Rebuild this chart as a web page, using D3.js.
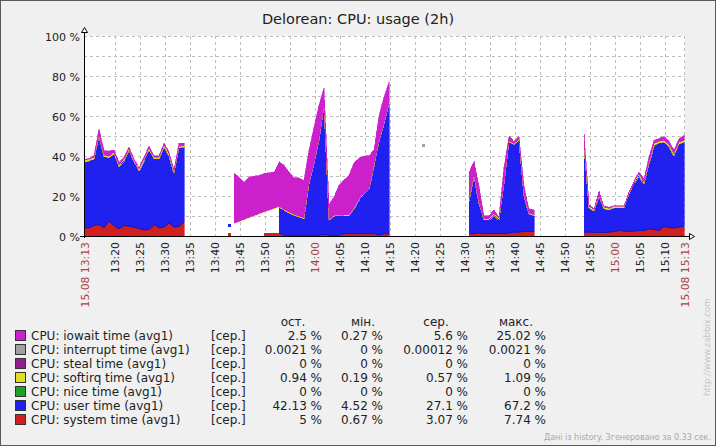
<!DOCTYPE html>
<html><head><meta charset="utf-8">
<script src="https://cdn.jsdelivr.net/npm/d3@7/dist/d3.min.js"></script>
<style>
body{margin:0;background:#f0f0f0}
svg{display:block}
text{font-family:"DejaVu Sans",sans-serif}
</style>
</head><body>
<svg id="chart" width="716" height="446"></svg>
<script>
// ---------------- data ----------------
const chartTitle = "Delorean: CPU: usage (2h)";
const sampleStart = "13:13:40";      // first sample clock time
const stepMinutes = 1;               // one sample per minute (avg1)
const spanMinutes = 120;

// values in %, one per minute, null = no data
const systemTime = [
  4.3,4.3,5.5,6,4.3,7.7,5.5,3.8,5.5,5.2,4.7,4,3.3,3.5,6,4.3,4.7,6.7,4.7,5,7.2,
  null,null,null,null,null,null,null,null,
  1.0,
  null,null,null,null,null,null,
  1.7,1.7,1.7,1.7,0.7,0.7,0.7,0.7,0.7,0.7,0.7,0.7,1.0,0.7,0.7,0.7,1.4,1.4,1.4,1.4,1.4,1.4,1.4,0.7,1.4,1.4,
  null,null,null,null,null,null,null,null,null,null,null,null,null,null,null,
  1.3,1.5,1.8,1.5,1.5,1.5,1.5,1.5,1.7,2.2,2.2,2.5,2.5,2.5,
  null,null,null,null,null,null,null,null,null,
  2.2,2.2,2.2,2.0,2.0,2.2,2.5,3.0,2.7,2.5,2.7,3.0,3.0,3.8,3.5,3.0,5.0,4.5,4.2,4.8,5.0
];
const userTime = [
  32.9,33.4,33.3,43.7,35.7,31.6,35.8,31.2,32.5,37.5,32.5,29,34.7,39.8,32.8,34.5,40.3,33.8,27,39.3,37.5,
  null,null,null,null,null,null,null,null,
  4.52,
  null,null,null,null,null,null,null,null,null,
  13.0,12.4,11.1,9.9,9.1,8.2,25.7,35.7,47.4,64.5,7.4,9.4,9.9,9.1,9.1,12.4,17.1,19.9,22.4,34.1,46.5,54.9,65.0,
  null,null,null,null,null,null,null,null,null,null,null,null,null,null,null,
  16.7,29,14.5,6.8,6.8,9.5,6.8,24.8,45.5,43.8,45.8,18,8.8,8,
  null,null,null,null,null,null,null,null,null,
  43.3,12.1,10.5,17.7,11.8,11.1,11.8,11.3,11.6,18.8,24,27.5,23.3,32.5,42,43.7,42.2,40.5,36.3,41.5,42.13
];
const softirqTime = [
  1.09,1.0,0.8,0.9,0.8,0.8,0.8,0.8,0.8,0.8,0.8,0.8,0.8,0.8,0.8,0.8,0.8,0.8,0.8,0.8,0.8,
  null,null,null,null,null,null,null,null,null,
  0.19,0.2,0.2,0.25,0.2,0.3,0.3,0.3,0.3,
  0.4,0.4,0.4,0.4,0.4,0.4,0.4,0.4,0.4,0.4,0.4,0.4,0.4,0.4,0.4,0.4,0.4,0.4,0.4,0.4,0.4,0.4,0.4,
  null,null,null,null,null,null,null,null,null,null,null,null,null,null,null,
  0.5,0.5,0.5,0.5,0.5,0.5,0.5,0.5,0.5,0.5,0.5,0.5,0.5,0.5,
  null,null,null,null,null,null,null,null,null,
  0.8,0.8,0.8,0.8,0.8,0.8,0.8,0.8,0.8,0.8,0.8,0.8,0.8,0.8,0.9,0.9,0.9,0.9,0.9,0.9,0.94
];
const interruptTime = [
  null,null,null,null,null,null,null,null,null,null,null,null,null,null,null,null,null,null,null,null,null,
  null,null,null,null,null,null,null,null,null,null,null,null,null,null,null,null,null,null,null,null,null,
  null,null,null,null,null,null,null,null,null,null,null,null,null,null,null,null,null,null,null,null,null,
  null,null,null,null,null,0.0021,
  null,null,null,null,null,null,null,null,null,null,null,null,null,null,null,null,null,null,null,null,null,
  null,null,null,null,null,null,null,null,null,null,null,null,null,null,null,null,null,null,null,null,null,
  null,null,null,null,null,null,null,null,null,null,null,null,null,null,null,null,null,null,null,null,null,null,null
];
const iowaitTime = [
  0.3,0.3,0.9,3.2,2.2,2.6,1.2,1.4,0.9,1.2,0.8,0.5,0.9,1.1,0.9,0.9,0.9,0.9,0.8,1.6,1.2,
  null,null,null,null,null,null,null,null,null,
  25.02,22.1,18.5,20.2,19.7,19.0,19.0,18.6,18.0,
  22.4,22.1,20.1,18.3,19.1,18.8,16.3,18.0,17.1,8.4,7.6,9.3,14.6,17.4,19.6,22.6,20.3,18.5,16.3,7.6,12.9,13.0,10.4,
  null,null,null,null,null,null,null,null,null,null,null,null,null,null,null,
  13.7,7,8.7,1.7,1.7,2,0.9,7.9,2.8,1.2,1.5,4.5,2,2.3,
  null,null,null,null,null,null,null,null,null,
  5.0,0.8,0.5,2.5,0.6,0.5,0.4,0.4,0.4,0.9,0.5,0.9,1.7,2.6,1.7,1.3,2.0,1.9,1.7,1.7,2.5
];

const timeTicks = ["13:20","13:25","13:30","13:35","13:40","13:45","13:50","13:55","14:00","14:05",
  "14:10","14:15","14:20","14:25","14:30","14:35","14:40","14:45","14:50","14:55","15:00","15:05","15:10"];
const highlightTicks = ["14:00","15:00"];
const edgeLabels = ["15.08 13:13","15.08 15:13"];
const yTicks = [0,10,20,30,40,50,60,70,80,90,100];
const yLabels = [0,20,40,60,80,100];

const legendNames = ["CPU: iowait time (avg1)","CPU: interrupt time (avg1)","CPU: steal time (avg1)",
  "CPU: softirq time (avg1)","CPU: nice time (avg1)","CPU: user time (avg1)","CPU: system time (avg1)"];
const legendColors = ["#CC20CC","#A0A0A0","#921E92","#E0E020","#20A020","#2020F0","#D02020"];
const legendFunc = "[сер.]";
const legendHeaders = ["ост.","мін.","сер.","макс."];
const lastValues = ["2.5 %","0.0021 %","0 %","0.94 %","0 %","42.13 %","5 %"];
const minValues  = ["0.27 %","0 %","0 %","0.19 %","0 %","4.52 %","0.67 %"];
const avgValues  = ["5.6 %","0.00012 %","0 %","0.57 %","0 %","27.1 %","3.07 %"];
const maxValues  = ["25.02 %","0.0021 %","0 %","1.09 %","0 %","67.2 %","7.74 %"];
const footerText = "Дані із history. Згенеровано за 0.33 сек.";
const watermark = "http://www.zabbix.com";

// ---------------- drawing ----------------
const svg = d3.select("#chart");
svg.append("rect").attr("x",0.5).attr("y",0.5).attr("width",715).attr("height",445)
  .attr("fill","#f0f0f0").attr("stroke","#5a5a5a");

const parseClock = d3.timeParse("%H:%M:%S");
const parseHM = d3.timeParse("%H:%M");
const t0 = parseClock(sampleStart);
const t1 = d3.timeMinute.offset(t0, spanMinutes);
const timeAt = i => d3.timeMinute.offset(t0, i*stepMinutes);

const x = d3.scaleTime().domain([t0,t1]).range([84,684]);
const y = d3.scaleLinear().domain([0,100]).range([236.5,36.5]);
const px = v => Math.floor(v)+0.5;

// plot background
svg.append("rect").attr("x",84).attr("y",36).attr("width",601).attr("height",201).attr("fill","#ffffff");

svg.append("text").attr("x",358).attr("y",24).attr("text-anchor","middle")
  .attr("font-size","14.5px").attr("fill","#222").text(chartTitle);

// grid
const grid = svg.append("g").attr("stroke","#bdbdbd").attr("stroke-dasharray","3,3").attr("shape-rendering","crispEdges");
yTicks.filter(v=>v>0).forEach(v=>{
  grid.append("line").attr("x1",84).attr("x2",685).attr("y1",px(y(v))).attr("y2",px(y(v)));
});
timeTicks.forEach(s=>{
  const xx = px(x(parseHM(s)));
  grid.append("line").attr("x1",xx).attr("x2",xx).attr("y1",36).attr("y2",237);
});
grid.append("line").attr("x1",684.5).attr("x2",684.5).attr("y1",36).attr("y2",237);

// stacking
const stack = [
  {values: systemTime, color: legendColors[6]},
  {values: userTime, color: legendColors[5], edge: "#1a1aa8"},
  {values: softirqTime, color: legendColors[3]},
  {values: interruptTime, color: legendColors[1]},
  {values: iowaitTime, color: legendColors[0]},
];
function filledAt(arr,i){
  if(arr[i]!=null) return arr[i];
  let p=i-1; while(p>=0 && arr[p]==null) p--;
  let n=i+1; while(n<arr.length && arr[n]==null) n++;
  if(p<0 || n>=arr.length) return 0;
  return arr[p] + (arr[n]-arr[p])*(i-p)/(n-p);
}
const N = systemTime.length;
const bases = stack.map((s,k)=> d3.range(N).map(i=> d3.sum(stack.slice(0,k), l=>filledAt(l.values,i))));

const plot = svg.append("g");
stack.forEach((s,k)=>{
  const base = bases[k];
  const runs=[]; let cur=null;
  s.values.forEach((v,i)=>{
    if(v!=null){ if(!cur){cur=[];runs.push(cur);} cur.push(i);} else cur=null;
  });
  runs.forEach(run=>{
    if(run.length===1){
      const i=run[0];
      plot.append("rect").attr("x",Math.floor(x(timeAt(i)))-1).attr("y",Math.floor(y(base[i]+s.values[i]))-1)
        .attr("width",3).attr("height",3).attr("fill",s.color);
      return;
    }
    const area = d3.area().x(i=>x(timeAt(i))).y0(i=>y(base[i])).y1(i=>y(base[i]+s.values[i]));
    plot.append("path").attr("d",area(run)).attr("fill",s.color).attr("stroke",s.color)
      .attr("stroke-width",0.6).attr("shape-rendering","crispEdges");
    if(s.edge){
      const ln = d3.line().x(i=>x(timeAt(i))).y(i=>y(base[i]));
      plot.append("path").attr("d",ln(run)).attr("fill","none").attr("stroke",s.edge).attr("stroke-width",1);
    }
  });
});

// axes
const ax = svg.append("g").attr("stroke","#000").attr("shape-rendering","crispEdges");
ax.append("line").attr("x1",84.5).attr("x2",84.5).attr("y1",31).attr("y2",237.5);
ax.append("line").attr("x1",80).attr("x2",690).attr("y1",236.5).attr("y2",236.5);
svg.append("path").attr("d","M84.5,27.5 L87.5,32.5 L81.5,32.5 Z").attr("fill","#fff").attr("stroke","#000");
svg.append("path").attr("d","M694.5,236.5 L689.5,233.5 L689.5,239.5 Z").attr("fill","#fff").attr("stroke","#000");

// y labels
yLabels.forEach(v=>{
  svg.append("text").attr("x",80).attr("y",y(v)+4).attr("text-anchor","end")
    .attr("font-size","11px").attr("fill","#222").text(v+" %");
});

// x labels
function vlabel(xx,text,color){
  svg.append("text").attr("transform",`translate(${xx+3.8},242) rotate(-90)`)
    .attr("text-anchor","end").attr("font-size","10.8px").attr("fill",color).text(text);
}
timeTicks.forEach(s=>{
  vlabel(x(parseHM(s)), s, highlightTicks.includes(s) ? "#aa4444" : "#222");
});
vlabel(x(t0)+1, edgeLabels[0], "#aa4444");
vlabel(x(t1)+1, edgeLabels[1], "#aa4444");

// legend
const lg = svg.append("g");
const rowY0 = 335.5, rowStep = 14.05;
legendHeaders.forEach((h,j)=>{
  lg.append("text").attr("x",[293,363,436,516][j]).attr("y",326).attr("text-anchor","middle")
    .attr("font-size","12px").attr("fill","#222").text(h);
});
const cols = [lastValues,minValues,avgValues,maxValues];
legendNames.forEach((name,r)=>{
  const cy = rowY0 + r*rowStep;
  lg.append("rect").attr("x",15.5).attr("y",Math.round(cy)-5.5).attr("width",10).attr("height",10)
    .attr("fill",legendColors[r]).attr("stroke","#333");
  lg.append("text").attr("x",31).attr("y",cy+4.5).attr("font-size","12px").attr("fill","#222").text(name);
  lg.append("text").attr("x",211).attr("y",cy+4.5).attr("font-size","12px").attr("fill","#222").text(legendFunc);
  cols.forEach((c,j)=>{
    lg.append("text").attr("x",[322,383,468,546][j]).attr("y",cy+4.5).attr("text-anchor","end")
      .attr("font-size","12px").attr("fill","#222").text(c[r]);
  });
});

svg.append("text").attr("x",711).attr("y",440).attr("text-anchor","end")
  .attr("font-size","8px").attr("fill","#a8a8a8").text(footerText);
svg.append("text").attr("transform","translate(710,396) rotate(-90)")
  .attr("font-size","8.5px").attr("fill","#c4c4c4").text(watermark);
</script>
</body></html>
